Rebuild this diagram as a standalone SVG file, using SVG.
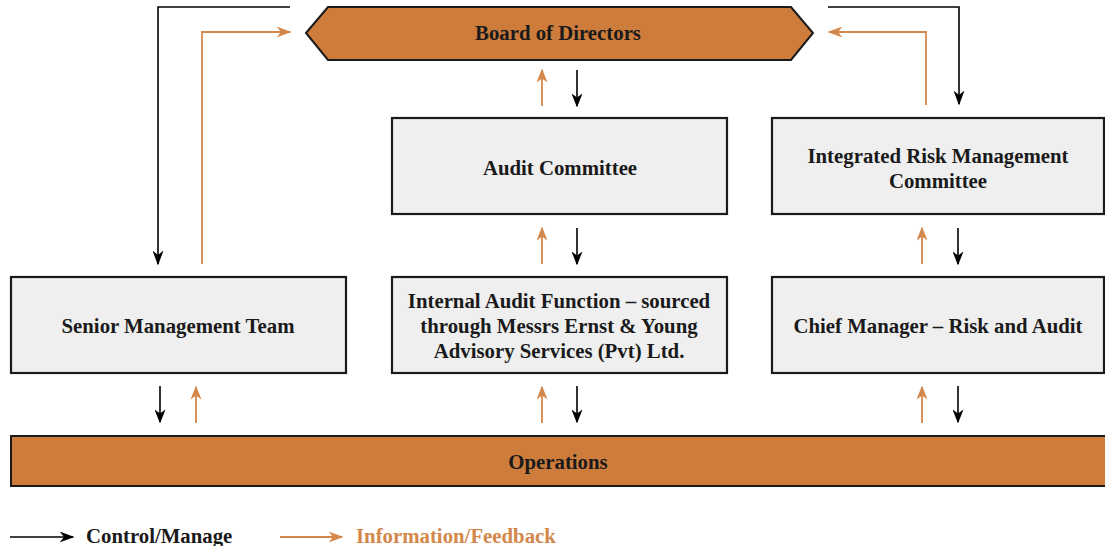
<svg xmlns="http://www.w3.org/2000/svg" width="1105" height="546" viewBox="0 0 1105 546">
<defs>
<style>
.t{font-family:"Liberation Serif","Times New Roman",serif;font-weight:bold;font-size:20.8px;fill:#1a1a1a;text-anchor:middle}
.box{fill:#efefef;stroke:#1a1a1a;stroke-width:2.2}
.org{fill:#cd7c3c;stroke:#1a1a1a;stroke-width:2}
.k{fill:none;stroke:#000;stroke-width:1.6}
.o{fill:none;stroke:#d4874a;stroke-width:1.8}
</style>
<marker id="ak" viewBox="0 0 10 10" refX="9" refY="5" markerWidth="14" markerHeight="11" markerUnits="userSpaceOnUse" orient="auto" preserveAspectRatio="none"><path d="M0,0 L10,5 L0,10 L3,5 z" fill="#000"/></marker>
<marker id="ao" viewBox="0 0 10 10" refX="9" refY="5" markerWidth="14" markerHeight="11" markerUnits="userSpaceOnUse" orient="auto" preserveAspectRatio="none"><path d="M0,0 L10,5 L0,10 L3,5 z" fill="#d4874a"/></marker>
<marker id="akL" viewBox="0 0 10 10" refX="9" refY="5" markerWidth="15" markerHeight="11" markerUnits="userSpaceOnUse" orient="auto" preserveAspectRatio="none"><path d="M0,0 L10,5 L0,10 L3,5 z" fill="#000"/></marker>
<marker id="aoL" viewBox="0 0 10 10" refX="9" refY="5" markerWidth="15" markerHeight="11" markerUnits="userSpaceOnUse" orient="auto" preserveAspectRatio="none"><path d="M0,0 L10,5 L0,10 L3,5 z" fill="#d4874a"/></marker>
</defs>
<rect width="1105" height="546" fill="#fff"/>
<g id="connectors">
<path class="k" d="M290,7 H158 V264" marker-end="url(#akL)"/>
<path class="o" d="M202,264 V32 H290" marker-end="url(#aoL)"/>
<path class="k" d="M828,7 H959 V104" marker-end="url(#akL)"/>
<path class="o" d="M926,105 V32 H829" marker-end="url(#aoL)"/>
<path class="o" d="M542,106 V70" marker-end="url(#ao)"/>
<path class="k" d="M577,70 V106" marker-end="url(#ak)"/>
<path class="o" d="M542,264 V228" marker-end="url(#ao)"/>
<path class="k" d="M577,228 V264" marker-end="url(#ak)"/>
<path class="o" d="M922,264 V228" marker-end="url(#ao)"/>
<path class="k" d="M958,228 V264" marker-end="url(#ak)"/>
<path class="k" d="M160,386 V422" marker-end="url(#ak)"/>
<path class="o" d="M196,423 V387" marker-end="url(#ao)"/>
<path class="o" d="M542,423 V387" marker-end="url(#ao)"/>
<path class="k" d="M577,386 V422" marker-end="url(#ak)"/>
<path class="o" d="M922,423 V387" marker-end="url(#ao)"/>
<path class="k" d="M958,386 V422" marker-end="url(#ak)"/>
</g>
<g id="board">
<polygon class="org" points="306,33 328,7 791,7 813,33 791,60 328,60"/>
<text class="t" x="558" y="40">Board of Directors</text>
</g>
<g id="audit-committee">
<rect class="box" x="392" y="118" width="335" height="96"/>
<text class="t" x="560" y="175">Audit Committee</text>
</g>
<g id="irmc">
<rect class="box" x="772" y="118" width="332" height="96"/>
<text class="t" x="938" y="163">Integrated Risk Management</text>
<text class="t" x="938" y="188">Committee</text>
</g>
<g id="senior-management">
<rect class="box" x="11" y="277" width="335" height="96"/>
<text class="t" x="178" y="333">Senior Management Team</text>
</g>
<g id="internal-audit">
<rect class="box" x="392" y="277" width="335" height="96"/>
<text class="t" x="559" y="308">Internal Audit Function – sourced</text>
<text class="t" x="559" y="333">through Messrs Ernst &amp; Young</text>
<text class="t" x="559" y="358">Advisory Services (Pvt) Ltd.</text>
</g>
<g id="chief-manager">
<rect class="box" x="772" y="277" width="332" height="96"/>
<text class="t" x="938" y="333">Chief Manager – Risk and Audit</text>
</g>
<g id="operations">
<rect class="org" x="11" y="436" width="1095" height="50"/>
<text class="t" x="558" y="469">Operations</text>
</g>
<g id="legend">
<path class="k" d="M10,537 H73" marker-end="url(#akL)"/>
<text class="t" x="86" y="543" style="text-anchor:start">Control/Manage</text>
<path class="o" d="M280,537 H342" marker-end="url(#aoL)"/>
<text class="t" x="356" y="543" style="text-anchor:start;fill:#d4874a">Information/Feedback</text>
</g>
</svg>
